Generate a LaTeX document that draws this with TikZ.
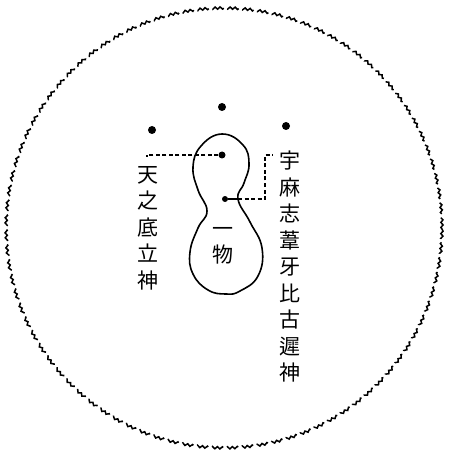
\documentclass[tikz,border=0pt]{standalone}
\usepackage{fontspec}
\newfontfamily\jpfont{Noto Sans CJK JP}
\usetikzlibrary{decorations.pathmorphing}

\begin{document}
\begin{tikzpicture}[x=1pt, y=-1pt,
  dot/.style={circle, fill=black, inner sep=0pt, minimum size=8pt},
  lead/.style={line width=1.1pt, dash pattern=on 4pt off 2.5pt},
  vlabel/.style={font=\jpfont\fontsize{21}{26.5}\selectfont, align=center, inner sep=0pt}]
  \useasboundingbox (0,0) rectangle (448,454);

  % outer wavy boundary
  \draw[line width=1.5pt, decorate,
        decoration={snake, amplitude=1.1pt, segment length=5pt},
        dash pattern=on 15pt off 5pt]
    (224,229) ellipse [x radius=218pt, y radius=220pt];

  % three dots above
  \node[dot] (d1) at (152,130) {};
  \node[dot] (d2) at (222,107) {};
  \node[dot] (d3) at (286,126) {};

  % gourd (one thing)
  \draw[line width=1.6pt] plot[smooth cycle, tension=0.75] coordinates {
    (222,134) (243,145) (249,164) (244,183) (238,199)
    (250,222) (262,248) (258,276) (240,291) (226,294)
    (208,290) (193,274) (190,252) (198,228) (207,211)
    (198,190) (193,167) (201,146)};

  % dots inside
  \node[dot, minimum size=7pt] (p1) at (222,155) {};
  \node[dot, minimum size=6pt] (p2) at (225,199) {};

  \node[vlabel] (mono) at (223,246) {一\\物};

  % labels
  \node[vlabel] (ten) at (148,228) {天\\之\\底\\立\\神};
  \node[vlabel] (umashi) at (290,267) {宇\\麻\\志\\葦\\牙\\比\\古\\遲\\神};

  % leaders
  \coordinate (lend) at (147,157);
  \draw[lead] (p1) -- (p1 -| lend) -- (lend);
  \coordinate (neck) at (238,199);
  \coordinate (rk) at (265,199);
  \coordinate (rend) at (273,155);
  \draw[line width=1.1pt] (p2) -- (neck);
  \draw[lead] (neck) -- (rk) |- (rend);
\end{tikzpicture}
\end{document}
